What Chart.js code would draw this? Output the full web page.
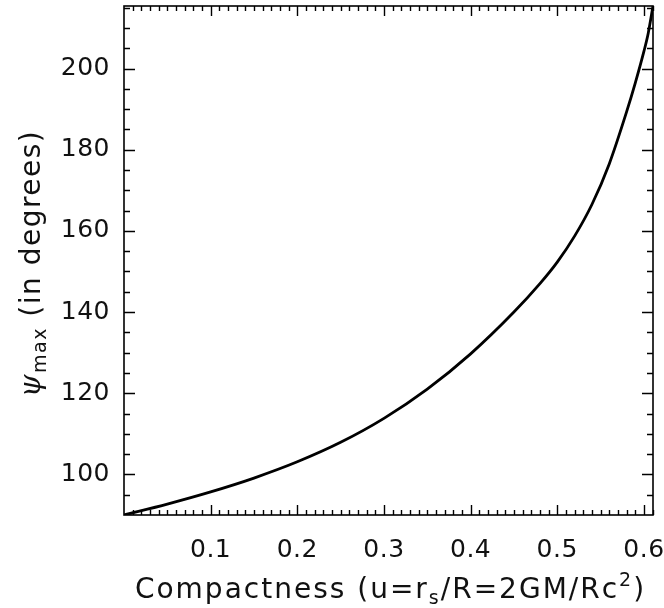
<!DOCTYPE html>
<html>
<head>
<meta charset="utf-8">
<script src="https://cdn.jsdelivr.net/npm/chart.js@4.4.1/dist/chart.umd.min.js"></script>
<style>
  html, body { margin: 0; padding: 0; background: #fff; }
  canvas { display: block; }
</style>
</head>
<body>
<canvas id="c" width="664" height="608"></canvas>
<script>
// ---- data ----
const compactness = [0, 0.05, 0.1, 0.15, 0.2, 0.25, 0.3, 0.35, 0.4, 0.45, 0.48, 0.5, 0.52, 0.54, 0.56, 0.58, 0.59, 0.6, 0.605, 0.6105];
const psiMax      = [90, 92.7, 95.7, 99.1, 103.1, 107.9, 113.8, 121.0, 129.7, 140.0, 147.0, 152.3, 158.7, 166.5, 176.5, 189.3, 196.4, 204.2, 208.7, 215.4];
const xTickLabels = [0.1, 0.2, 0.3, 0.4, 0.5, 0.6];
const yTickLabels = [100, 120, 140, 160, 180, 200];
const xMinorStep = 0.01;
const yMinorStep = 5;

const FONT = "'DejaVu Sans', sans-serif";

function drawRich(ctx, segs, x, y, align) {
  let total = 0;
  const widths = segs.map(s => {
    ctx.font = (s.style || '') + ' ' + s.size + 'px ' + (s.family || FONT);
    const w = ctx.measureText(s.t).width;
    total += w;
    return w;
  });
  let cx = align === 'center' ? x - total / 2 : x;
  segs.forEach((s, i) => {
    ctx.font = (s.style || '') + ' ' + s.size + 'px ' + (s.family || FONT);
    ctx.fillText(s.t, cx, y + (s.dy || 0));
    cx += widths[i];
  });
}

const framePlugin = {
  id: 'frame',
  beforeDraw(chart) {
    chart.ctx.letterSpacing = '0.5px';
  },
  afterDraw(chart) {
    const ctx = chart.ctx;
    const a = chart.chartArea;
    const xs = chart.scales.x, ys = chart.scales.y;
    ctx.save();
    ctx.strokeStyle = '#000';
    ctx.lineWidth = 1.6;
    ctx.strokeRect(a.left, a.top, a.right - a.left, a.bottom - a.top);
    ctx.lineWidth = 1.4;
    ctx.beginPath();
    const nx = Math.round((xs.max - xs.min) / xMinorStep);
    for (let i = 1; i <= nx; i++) {
      const v = xs.min + i * xMinorStep;
      if (v > xs.max + 1e-9) break;
      const major = xTickLabels.some(t => Math.abs(t - v) < 1e-6);
      const len = major ? 10 : 5;
      const px = Math.round(xs.getPixelForValue(v)) + 0.5;
      ctx.moveTo(px, a.bottom); ctx.lineTo(px, a.bottom - len);
      ctx.moveTo(px, a.top); ctx.lineTo(px, a.top + len);
    }
    for (let v = ys.min + yMinorStep; v < ys.max; v += yMinorStep) {
      const major = yTickLabels.some(t => Math.abs(t - v) < 1e-6);
      const len = major ? 11 : 6;
      const py = Math.round(ys.getPixelForValue(v)) + 0.5;
      ctx.moveTo(a.left, py); ctx.lineTo(a.left + len, py);
      ctx.moveTo(a.right, py); ctx.lineTo(a.right - len, py);
    }
    ctx.stroke();

    // axis titles
    ctx.fillStyle = '#111';
    ctx.textBaseline = 'alphabetic';
    ctx.textAlign = 'left';
    ctx.letterSpacing = '2px';
    drawRich(ctx, [
      { t: 'Compactness (u=r', size: 28 },
      { t: 's', size: 19, dy: 6 },
      { t: '/R=2GM/Rc', size: 28 },
      { t: '2', size: 19, dy: -12 },
      { t: ')', size: 28 }
    ], (a.left + a.right) / 2 + 2, 598, 'center');

    ctx.letterSpacing = '1.5px';
    ctx.translate(40, (a.top + a.bottom) / 2 + 3);
    ctx.rotate(-Math.PI / 2);
    drawRich(ctx, [
      { t: 'ψ', size: 29, style: 'italic', family: "'DejaVu Serif', serif" },
      { t: 'max', size: 19, dy: 6 },
      { t: ' (in degrees)', size: 28 }
    ], 0, 0, 'center');
    ctx.restore();
  }
};

const points = compactness.map((u, i) => ({ x: u, y: psiMax[i] }));

new Chart(document.getElementById('c'), {
  type: 'line',
  data: {
    datasets: [{
      data: points,
      borderColor: '#000',
      borderWidth: 2.8,
      pointRadius: 0,
      fill: false,
      cubicInterpolationMode: 'monotone'
    }]
  },
  options: {
    responsive: false,
    animation: false,
    devicePixelRatio: 1,
    layout: { padding: { left: 0, top: 6, right: 11, bottom: 0 } },
    plugins: { legend: { display: false }, tooltip: { enabled: false } },
    scales: {
      x: {
        type: 'linear',
        min: 0,
        max: 0.6105,
        grid: { display: false, drawTicks: false },
        border: { display: false },
        afterBuildTicks: s => { s.ticks = xTickLabels.map(v => ({ value: v })); },
        afterFit: s => { s.height = 93; s.paddingLeft = 0; s.paddingRight = 0; },
        ticks: {
          color: '#111',
          font: { family: FONT, size: 25 },
          padding: 20,
          maxRotation: 0,
          autoSkip: false,
          callback: v => Number(v).toFixed(1)
        }
      },
      y: {
        type: 'linear',
        min: 90,
        max: 215.4,
        grid: { display: false, drawTicks: false },
        border: { display: false },
        afterBuildTicks: s => { s.ticks = yTickLabels.map(v => ({ value: v })); },
        afterFit: s => { s.width = 124; s.paddingTop = 0; s.paddingBottom = 0; },
        ticks: {
          color: '#111',
          font: { family: FONT, size: 25 },
          padding: 14,
          autoSkip: false,
          callback: v => String(v)
        }
      }
    }
  },
  plugins: [framePlugin]
});
</script>
</body>
</html>
